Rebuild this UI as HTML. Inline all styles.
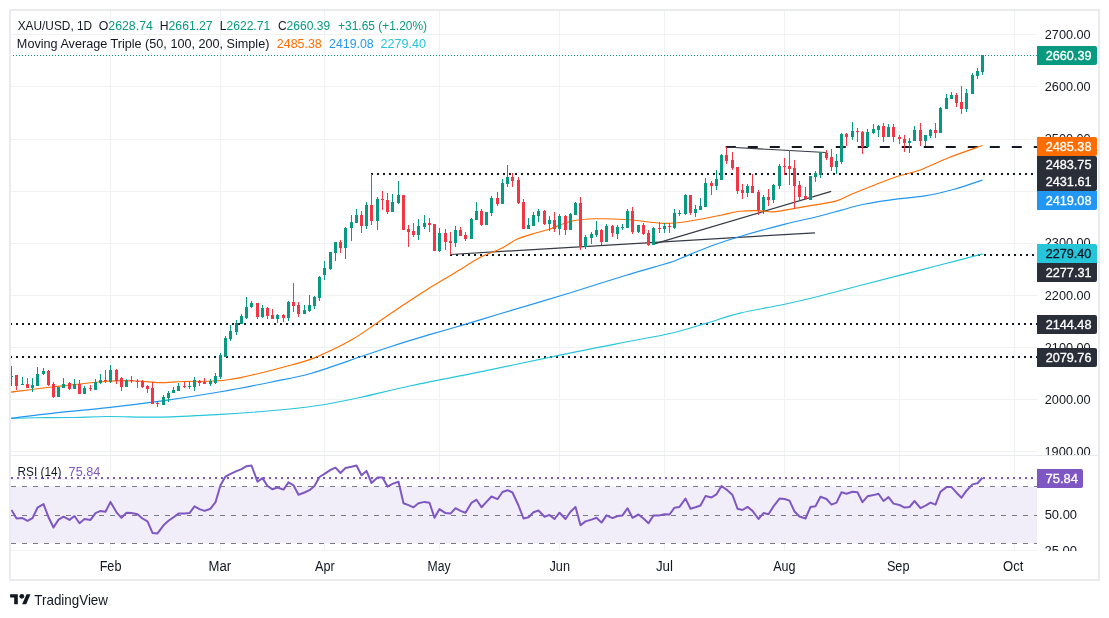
<!DOCTYPE html><html><head><meta charset="utf-8"><style>html,body{margin:0;padding:0;background:#fff;}body{width:1109px;height:618px;overflow:hidden;}</style></head><body><svg width="1109" height="618" viewBox="0 0 1109 618" style="display:block;font-family:'Liberation Sans', sans-serif;will-change:transform">
<rect x="0" y="0" width="1109" height="618" fill="#ffffff"/>
<defs>
<clipPath id="mainclip"><rect x="11" y="11" width="1026" height="444"/></clipPath>
<clipPath id="rsiclip"><rect x="11" y="456" width="1026" height="95"/></clipPath>
<clipPath id="axmain"><rect x="1037" y="11" width="61" height="444"/></clipPath>
<clipPath id="axrsi"><rect x="1037" y="456" width="61" height="95"/></clipPath>
</defs>
<rect x="11" y="34" width="1026" height="1" fill="#F0F2F2"/>
<rect x="11" y="86" width="1026" height="1" fill="#F0F2F2"/>
<rect x="11" y="139" width="1026" height="1" fill="#F0F2F2"/>
<rect x="11" y="191" width="1026" height="1" fill="#F0F2F2"/>
<rect x="11" y="243" width="1026" height="1" fill="#F0F2F2"/>
<rect x="11" y="295" width="1026" height="1" fill="#F0F2F2"/>
<rect x="11" y="347" width="1026" height="1" fill="#F0F2F2"/>
<rect x="11" y="399" width="1026" height="1" fill="#F0F2F2"/>
<rect x="11" y="451" width="1026" height="1" fill="#F0F2F2"/>
<rect x="11" y="479" width="1026" height="1" fill="#F0F2F2"/>
<rect x="11" y="550" width="1026" height="1" fill="#F0F2F2"/>
<rect x="110" y="11" width="1" height="540" fill="#F0F2F2"/>
<rect x="220" y="11" width="1" height="540" fill="#F0F2F2"/>
<rect x="324" y="11" width="1" height="540" fill="#F0F2F2"/>
<rect x="439" y="11" width="1" height="540" fill="#F0F2F2"/>
<rect x="559" y="11" width="1" height="540" fill="#F0F2F2"/>
<rect x="664" y="11" width="1" height="540" fill="#F0F2F2"/>
<rect x="784" y="11" width="1" height="540" fill="#F0F2F2"/>
<rect x="899" y="11" width="1" height="540" fill="#F0F2F2"/>
<rect x="1014" y="11" width="1" height="540" fill="#F0F2F2"/>
<g clip-path="url(#mainclip)">
<g shape-rendering="crispEdges">
<line x1="10" y1="357" x2="1037" y2="357" stroke="#131722" stroke-width="2" stroke-dasharray="2 4"/>
<line x1="10" y1="324" x2="1037" y2="324" stroke="#131722" stroke-width="2" stroke-dasharray="2 4"/>
<line x1="450" y1="255" x2="1037" y2="255" stroke="#131722" stroke-width="2" stroke-dasharray="2 4"/>
<line x1="371" y1="174" x2="1037" y2="174" stroke="#131722" stroke-width="2" stroke-dasharray="2 4"/>
</g>
<line x1="725.8" y1="147" x2="1037" y2="147" stroke="#131722" stroke-width="2" stroke-dasharray="10 12"/>
<line x1="450.7" y1="254.5" x2="815" y2="232.8" stroke="#363A45" stroke-width="1.2"/>
<line x1="653.5" y1="244.2" x2="831.2" y2="191.3" stroke="#363A45" stroke-width="1.2"/>
<line x1="725.8" y1="147" x2="825.7" y2="152.5" stroke="#363A45" stroke-width="1.2"/>
<path d="M10.3,418.4 C14.4,418.3 24.9,417.8 35.0,417.7 C45.1,417.6 58.8,417.7 71.0,417.5 C83.2,417.3 92.8,416.6 108.0,416.5 C123.2,416.4 143.2,417.5 162.0,417.1 C180.8,416.8 202.6,415.4 220.7,414.4 C238.8,413.3 254.6,412.2 270.5,410.8 C286.4,409.4 301.5,408.0 316.4,405.8 C331.3,403.6 344.6,400.8 360.0,397.5 C375.4,394.2 388.3,390.6 408.8,386.2 C429.3,381.8 457.6,376.6 482.8,371.4 C508.0,366.2 536.4,360.0 560.0,355.1 C583.6,350.2 606.1,345.9 624.6,342.3 C643.1,338.7 657.4,336.5 671.1,333.3 C684.8,330.1 695.1,326.5 706.6,323.1 C718.1,319.7 727.6,316.1 740.0,313.1 C752.4,310.1 768.7,307.6 781.0,305.0 C793.3,302.4 800.8,300.8 814.0,297.5 C827.2,294.2 845.5,289.3 860.0,285.5 C874.5,281.7 888.0,278.3 901.3,274.9 C914.6,271.5 926.5,268.5 940.0,265.0 C953.5,261.5 975.5,255.8 982.6,253.9" fill="none" stroke="#26C6DA" stroke-width="1.15"/>
<path d="M10.3,418.4 C18.2,417.4 41.3,414.4 57.6,412.6 C73.9,410.8 90.5,409.6 108.0,407.6 C125.5,405.7 143.5,403.5 162.3,400.9 C181.1,398.2 202.7,394.8 220.7,391.7 C238.7,388.6 255.3,385.3 270.5,382.2 C285.6,379.1 295.9,377.7 311.6,373.2 C327.3,368.7 350.3,360.1 364.8,355.3 C379.3,350.5 387.6,347.6 398.4,344.1 C409.2,340.7 417.8,338.1 429.5,334.6 C441.2,331.2 456.6,326.9 468.4,323.4 C480.1,319.9 482.9,318.9 500.0,313.8 C517.1,308.7 550.4,298.9 571.2,292.5 C592.0,286.1 609.0,280.4 624.6,275.7 C640.2,270.9 656.5,266.5 664.9,264.0 C673.3,261.5 670.9,262.4 675.0,260.8 C679.1,259.2 682.8,257.3 689.5,254.6 C696.2,251.9 707.0,247.5 715.4,244.5 C723.8,241.5 728.4,239.9 740.0,236.5 C751.6,233.1 772.0,227.5 785.1,224.1 C798.2,220.7 809.5,218.5 818.9,216.2 C828.3,213.9 833.9,212.1 841.4,210.1 C848.9,208.1 854.6,206.2 864.0,204.3 C873.4,202.4 887.6,200.3 897.8,198.9 C907.9,197.5 915.5,197.5 924.9,195.9 C934.3,194.3 944.6,191.8 954.2,189.2 C963.8,186.6 977.6,181.6 982.3,180.1" fill="none" stroke="#2196F3" stroke-width="1.15"/>
<path d="M10.8,392.2 C18.0,391.3 37.8,388.6 54.0,386.8 C70.2,385.0 94.2,382.2 108.0,381.2 C121.8,380.2 128.1,380.8 136.7,381.0 C145.3,381.2 151.9,382.5 159.6,382.6 C167.2,382.7 173.6,381.8 182.6,381.5 C191.6,381.2 205.4,381.3 213.3,381.0 C221.2,380.7 222.3,380.8 230.0,379.5 C237.7,378.2 249.3,375.6 259.7,373.2 C270.1,370.8 283.0,367.4 292.2,364.8 C301.4,362.2 305.0,361.8 314.9,357.6 C324.8,353.4 341.3,345.6 351.8,339.7 C362.3,333.8 369.1,328.2 377.7,322.4 C386.3,316.6 395.0,310.6 403.6,304.8 C412.2,299.1 420.9,293.3 429.5,287.9 C438.1,282.5 446.8,277.6 455.4,272.4 C464.0,267.2 473.9,260.7 481.3,256.8 C488.7,252.9 494.1,252.0 500.0,249.1 C505.9,246.2 511.1,242.0 517.0,239.3 C522.9,236.6 530.1,234.7 535.6,233.0 C541.1,231.3 544.1,230.9 550.0,229.0 C555.9,227.1 563.5,223.0 571.2,221.3 C578.9,219.6 586.7,219.1 596.2,218.8 C605.7,218.6 616.9,219.0 628.2,219.8 C639.5,220.6 653.7,223.2 663.8,223.4 C673.9,223.7 679.2,222.7 688.7,221.3 C698.2,219.9 712.2,216.9 720.8,215.2 C729.3,213.5 733.8,212.1 740.0,211.3 C746.2,210.5 752.5,210.5 758.0,210.6 C763.5,210.7 768.2,212.0 772.7,211.9 C777.2,211.8 779.3,211.1 785.1,210.1 C790.9,209.1 799.2,207.6 807.6,206.1 C816.0,204.6 828.3,203.2 835.8,201.1 C843.3,199.0 846.1,196.4 852.7,193.7 C859.3,191.0 867.8,187.6 875.3,184.7 C882.8,181.8 890.3,178.8 897.8,176.3 C905.3,173.9 911.8,173.1 920.3,170.0 C928.8,166.9 938.7,161.6 949.1,157.5 C959.5,153.4 976.9,147.5 982.5,145.5" fill="none" stroke="#FF6D00" stroke-width="1.15"/>
<line x1="10" y1="55.5" x2="1037" y2="55.5" stroke="#089981" stroke-width="1" stroke-dasharray="1 2" stroke-dashoffset="-0"/>
<g shape-rendering="crispEdges">
<rect x="11" y="366.2" width="1" height="19.9" fill="#089981"/>
<rect x="10" y="375.5" width="3" height="1.0" fill="#089981"/>
<rect x="16" y="375.2" width="1" height="14.3" fill="#F23645"/>
<rect x="15" y="375.2" width="3" height="10.7" fill="#F23645"/>
<rect x="22" y="377.1" width="1" height="7.5" fill="#089981"/>
<rect x="21" y="383.6" width="3" height="1.0" fill="#089981"/>
<rect x="27" y="378.1" width="1" height="9.4" fill="#F23645"/>
<rect x="26" y="384.1" width="3" height="3.4" fill="#F23645"/>
<rect x="32" y="378.1" width="1" height="13.6" fill="#089981"/>
<rect x="31" y="385.1" width="3" height="2.7" fill="#089981"/>
<rect x="37" y="367.1" width="1" height="18.8" fill="#089981"/>
<rect x="36" y="374.2" width="3" height="11.7" fill="#089981"/>
<rect x="43" y="368.1" width="1" height="6.8" fill="#089981"/>
<rect x="42" y="371.0" width="3" height="2.9" fill="#089981"/>
<rect x="48" y="370.0" width="1" height="15.9" fill="#F23645"/>
<rect x="47" y="370.5" width="3" height="14.6" fill="#F23645"/>
<rect x="53" y="382.2" width="1" height="15.5" fill="#F23645"/>
<rect x="52" y="383.9" width="3" height="13.0" fill="#F23645"/>
<rect x="58" y="387.0" width="1" height="9.7" fill="#089981"/>
<rect x="57" y="387.0" width="3" height="9.7" fill="#089981"/>
<rect x="63" y="378.1" width="1" height="9.7" fill="#089981"/>
<rect x="62" y="383.9" width="3" height="3.9" fill="#089981"/>
<rect x="69" y="382.2" width="1" height="7.6" fill="#F23645"/>
<rect x="68" y="383.2" width="3" height="5.8" fill="#F23645"/>
<rect x="74" y="379.1" width="1" height="9.9" fill="#089981"/>
<rect x="73" y="383.9" width="3" height="4.9" fill="#089981"/>
<rect x="79" y="380.0" width="1" height="13.8" fill="#F23645"/>
<rect x="78" y="384.1" width="3" height="9.7" fill="#F23645"/>
<rect x="84" y="386.1" width="1" height="7.7" fill="#089981"/>
<rect x="83" y="388.0" width="3" height="5.8" fill="#089981"/>
<rect x="90" y="385.1" width="1" height="5.8" fill="#F23645"/>
<rect x="89" y="388.0" width="3" height="1.0" fill="#F23645"/>
<rect x="95" y="379.1" width="1" height="10.7" fill="#089981"/>
<rect x="94" y="382.2" width="3" height="7.6" fill="#089981"/>
<rect x="100" y="373.9" width="1" height="10.0" fill="#089981"/>
<rect x="99" y="380.0" width="3" height="3.2" fill="#089981"/>
<rect x="105" y="370.0" width="1" height="12.7" fill="#F23645"/>
<rect x="104" y="380.2" width="3" height="1.0" fill="#F23645"/>
<rect x="110" y="364.7" width="1" height="18.5" fill="#089981"/>
<rect x="109" y="370.0" width="3" height="12.2" fill="#089981"/>
<rect x="116" y="369.2" width="1" height="14.3" fill="#F23645"/>
<rect x="115" y="369.9" width="3" height="11.2" fill="#F23645"/>
<rect x="121" y="377.2" width="1" height="13.6" fill="#F23645"/>
<rect x="120" y="378.2" width="3" height="8.5" fill="#F23645"/>
<rect x="126" y="379.1" width="1" height="7.6" fill="#089981"/>
<rect x="125" y="380.1" width="3" height="6.6" fill="#089981"/>
<rect x="131" y="376.2" width="1" height="6.3" fill="#F23645"/>
<rect x="130" y="380.3" width="3" height="1.0" fill="#F23645"/>
<rect x="137" y="379.1" width="1" height="8.6" fill="#F23645"/>
<rect x="136" y="381.0" width="3" height="1.0" fill="#F23645"/>
<rect x="142" y="380.3" width="1" height="7.4" fill="#F23645"/>
<rect x="141" y="381.3" width="3" height="5.6" fill="#F23645"/>
<rect x="147" y="385.4" width="1" height="7.3" fill="#F23645"/>
<rect x="146" y="386.4" width="3" height="2.2" fill="#F23645"/>
<rect x="152" y="382.0" width="1" height="21.6" fill="#F23645"/>
<rect x="151" y="388.0" width="3" height="15.6" fill="#F23645"/>
<rect x="157" y="401.0" width="1" height="5.8" fill="#F23645"/>
<rect x="156" y="402.9" width="3" height="1.0" fill="#F23645"/>
<rect x="163" y="395.1" width="1" height="9.8" fill="#089981"/>
<rect x="162" y="397.1" width="3" height="7.8" fill="#089981"/>
<rect x="168" y="391.3" width="1" height="10.2" fill="#089981"/>
<rect x="167" y="392.7" width="3" height="5.1" fill="#089981"/>
<rect x="173" y="386.9" width="1" height="5.8" fill="#089981"/>
<rect x="172" y="389.8" width="3" height="2.9" fill="#089981"/>
<rect x="178" y="383.2" width="1" height="7.6" fill="#089981"/>
<rect x="177" y="386.1" width="3" height="4.7" fill="#089981"/>
<rect x="184" y="382.0" width="1" height="5.9" fill="#F23645"/>
<rect x="183" y="386.1" width="3" height="1.0" fill="#F23645"/>
<rect x="189" y="381.3" width="1" height="7.5" fill="#089981"/>
<rect x="188" y="386.1" width="3" height="1.0" fill="#089981"/>
<rect x="194" y="377.2" width="1" height="13.6" fill="#089981"/>
<rect x="193" y="380.3" width="3" height="6.4" fill="#089981"/>
<rect x="199" y="380.3" width="1" height="5.4" fill="#F23645"/>
<rect x="198" y="380.6" width="3" height="2.2" fill="#F23645"/>
<rect x="204" y="378.2" width="1" height="5.3" fill="#F23645"/>
<rect x="203" y="381.6" width="3" height="1.9" fill="#F23645"/>
<rect x="210" y="379.1" width="1" height="6.6" fill="#089981"/>
<rect x="209" y="381.1" width="3" height="2.4" fill="#089981"/>
<rect x="215" y="373.3" width="1" height="10.2" fill="#089981"/>
<rect x="214" y="376.1" width="3" height="6.5" fill="#089981"/>
<rect x="220" y="353.1" width="1" height="25.6" fill="#089981"/>
<rect x="219" y="355.0" width="3" height="22.4" fill="#089981"/>
<rect x="225" y="336.1" width="1" height="21.1" fill="#089981"/>
<rect x="224" y="338.2" width="3" height="18.5" fill="#089981"/>
<rect x="230" y="324.8" width="1" height="15.7" fill="#089981"/>
<rect x="229" y="330.8" width="3" height="7.7" fill="#089981"/>
<rect x="236" y="319.9" width="1" height="14.6" fill="#089981"/>
<rect x="235" y="323.2" width="3" height="8.5" fill="#089981"/>
<rect x="241" y="313.5" width="1" height="10.8" fill="#089981"/>
<rect x="240" y="315.9" width="3" height="7.8" fill="#089981"/>
<rect x="246" y="296.8" width="1" height="22.0" fill="#089981"/>
<rect x="245" y="307.0" width="3" height="10.5" fill="#089981"/>
<rect x="251" y="301.0" width="1" height="6.5" fill="#089981"/>
<rect x="250" y="303.0" width="3" height="4.0" fill="#089981"/>
<rect x="257" y="303.0" width="1" height="16.4" fill="#F23645"/>
<rect x="256" y="303.0" width="3" height="13.7" fill="#F23645"/>
<rect x="262" y="305.4" width="1" height="12.1" fill="#089981"/>
<rect x="261" y="307.8" width="3" height="8.9" fill="#089981"/>
<rect x="267" y="307.0" width="1" height="11.8" fill="#F23645"/>
<rect x="266" y="307.8" width="3" height="8.1" fill="#F23645"/>
<rect x="272" y="309.1" width="1" height="9.7" fill="#F23645"/>
<rect x="271" y="315.1" width="3" height="3.7" fill="#F23645"/>
<rect x="277" y="314.0" width="1" height="8.7" fill="#089981"/>
<rect x="276" y="315.1" width="3" height="3.7" fill="#089981"/>
<rect x="283" y="314.3" width="1" height="7.3" fill="#F23645"/>
<rect x="282" y="315.1" width="3" height="2.7" fill="#F23645"/>
<rect x="288" y="301.0" width="1" height="19.7" fill="#089981"/>
<rect x="287" y="301.7" width="3" height="16.1" fill="#089981"/>
<rect x="293" y="283.0" width="1" height="28.8" fill="#F23645"/>
<rect x="292" y="302.1" width="3" height="3.8" fill="#F23645"/>
<rect x="298" y="302.1" width="1" height="14.6" fill="#F23645"/>
<rect x="297" y="304.9" width="3" height="9.0" fill="#F23645"/>
<rect x="304" y="305.4" width="1" height="8.5" fill="#089981"/>
<rect x="303" y="310.2" width="3" height="3.7" fill="#089981"/>
<rect x="309" y="295.1" width="1" height="16.4" fill="#089981"/>
<rect x="308" y="305.3" width="3" height="5.3" fill="#089981"/>
<rect x="314" y="295.8" width="1" height="13.0" fill="#089981"/>
<rect x="313" y="296.9" width="3" height="9.3" fill="#089981"/>
<rect x="319" y="276.3" width="1" height="24.5" fill="#089981"/>
<rect x="318" y="276.8" width="3" height="20.8" fill="#089981"/>
<rect x="324" y="261.3" width="1" height="18.5" fill="#089981"/>
<rect x="323" y="267.9" width="3" height="7.1" fill="#089981"/>
<rect x="330" y="251.9" width="1" height="17.8" fill="#089981"/>
<rect x="329" y="252.4" width="3" height="16.4" fill="#089981"/>
<rect x="335" y="242.1" width="1" height="18.7" fill="#089981"/>
<rect x="334" y="242.4" width="3" height="10.3" fill="#089981"/>
<rect x="340" y="239.9" width="1" height="12.8" fill="#F23645"/>
<rect x="339" y="242.1" width="3" height="5.7" fill="#F23645"/>
<rect x="345" y="226.9" width="1" height="32.1" fill="#089981"/>
<rect x="344" y="227.5" width="3" height="20.3" fill="#089981"/>
<rect x="351" y="215.0" width="1" height="25.6" fill="#089981"/>
<rect x="350" y="222.1" width="3" height="5.7" fill="#089981"/>
<rect x="356" y="208.8" width="1" height="14.1" fill="#089981"/>
<rect x="355" y="215.1" width="3" height="7.8" fill="#089981"/>
<rect x="361" y="211.0" width="1" height="21.8" fill="#F23645"/>
<rect x="360" y="215.1" width="3" height="10.7" fill="#F23645"/>
<rect x="366" y="202.0" width="1" height="26.8" fill="#089981"/>
<rect x="365" y="205.2" width="3" height="20.6" fill="#089981"/>
<rect x="371" y="173.8" width="1" height="51.0" fill="#F23645"/>
<rect x="370" y="205.2" width="3" height="15.7" fill="#F23645"/>
<rect x="377" y="197.1" width="1" height="32.8" fill="#089981"/>
<rect x="376" y="199.0" width="3" height="21.9" fill="#089981"/>
<rect x="382" y="190.9" width="1" height="18.9" fill="#F23645"/>
<rect x="381" y="198.6" width="3" height="1.4" fill="#F23645"/>
<rect x="387" y="193.2" width="1" height="20.4" fill="#F23645"/>
<rect x="386" y="200.0" width="3" height="11.7" fill="#F23645"/>
<rect x="392" y="193.8" width="1" height="17.9" fill="#089981"/>
<rect x="391" y="202.2" width="3" height="9.5" fill="#089981"/>
<rect x="398" y="181.1" width="1" height="23.3" fill="#089981"/>
<rect x="397" y="195.0" width="3" height="8.0" fill="#089981"/>
<rect x="403" y="195.0" width="1" height="34.6" fill="#F23645"/>
<rect x="402" y="195.0" width="3" height="34.6" fill="#F23645"/>
<rect x="408" y="225.3" width="1" height="21.4" fill="#F23645"/>
<rect x="407" y="229.2" width="3" height="2.5" fill="#F23645"/>
<rect x="413" y="222.9" width="1" height="14.0" fill="#F23645"/>
<rect x="412" y="231.1" width="3" height="3.5" fill="#F23645"/>
<rect x="418" y="219.0" width="1" height="20.8" fill="#089981"/>
<rect x="417" y="225.8" width="3" height="8.8" fill="#089981"/>
<rect x="424" y="215.1" width="1" height="13.7" fill="#089981"/>
<rect x="423" y="222.9" width="3" height="4.4" fill="#089981"/>
<rect x="429" y="218.0" width="1" height="13.7" fill="#F23645"/>
<rect x="428" y="222.9" width="3" height="1.9" fill="#F23645"/>
<rect x="434" y="223.9" width="1" height="26.7" fill="#F23645"/>
<rect x="433" y="224.4" width="3" height="26.2" fill="#F23645"/>
<rect x="439" y="228.0" width="1" height="23.9" fill="#089981"/>
<rect x="438" y="232.8" width="3" height="18.6" fill="#089981"/>
<rect x="445" y="229.3" width="1" height="20.5" fill="#F23645"/>
<rect x="444" y="232.8" width="3" height="8.9" fill="#F23645"/>
<rect x="450" y="232.0" width="1" height="22.7" fill="#F23645"/>
<rect x="449" y="240.9" width="3" height="1.6" fill="#F23645"/>
<rect x="455" y="226.0" width="1" height="20.6" fill="#089981"/>
<rect x="454" y="229.9" width="3" height="13.4" fill="#089981"/>
<rect x="460" y="227.2" width="1" height="9.2" fill="#F23645"/>
<rect x="459" y="229.9" width="3" height="6.1" fill="#F23645"/>
<rect x="465" y="232.0" width="1" height="8.9" fill="#F23645"/>
<rect x="464" y="234.8" width="3" height="4.5" fill="#F23645"/>
<rect x="471" y="217.9" width="1" height="21.1" fill="#089981"/>
<rect x="470" y="218.6" width="3" height="20.4" fill="#089981"/>
<rect x="476" y="202.1" width="1" height="17.8" fill="#089981"/>
<rect x="475" y="211.0" width="3" height="8.9" fill="#089981"/>
<rect x="481" y="209.4" width="1" height="16.6" fill="#F23645"/>
<rect x="480" y="211.0" width="3" height="14.0" fill="#F23645"/>
<rect x="486" y="211.8" width="1" height="13.2" fill="#089981"/>
<rect x="485" y="212.1" width="3" height="12.6" fill="#089981"/>
<rect x="491" y="195.9" width="1" height="19.9" fill="#089981"/>
<rect x="490" y="198.0" width="3" height="14.6" fill="#089981"/>
<rect x="497" y="192.0" width="1" height="13.6" fill="#F23645"/>
<rect x="496" y="198.0" width="3" height="6.0" fill="#F23645"/>
<rect x="502" y="179.1" width="1" height="24.6" fill="#089981"/>
<rect x="501" y="183.0" width="3" height="20.7" fill="#089981"/>
<rect x="507" y="164.9" width="1" height="21.8" fill="#089981"/>
<rect x="506" y="177.0" width="3" height="6.9" fill="#089981"/>
<rect x="512" y="172.9" width="1" height="13.8" fill="#F23645"/>
<rect x="511" y="177.0" width="3" height="3.7" fill="#F23645"/>
<rect x="518" y="177.0" width="1" height="26.7" fill="#F23645"/>
<rect x="517" y="180.2" width="3" height="23.2" fill="#F23645"/>
<rect x="523" y="198.8" width="1" height="30.0" fill="#F23645"/>
<rect x="522" y="201.7" width="3" height="27.1" fill="#F23645"/>
<rect x="528" y="217.9" width="1" height="10.9" fill="#089981"/>
<rect x="527" y="225.0" width="3" height="3.8" fill="#089981"/>
<rect x="533" y="212.1" width="1" height="13.5" fill="#089981"/>
<rect x="532" y="215.0" width="3" height="10.6" fill="#089981"/>
<rect x="538" y="209.1" width="1" height="12.6" fill="#089981"/>
<rect x="537" y="211.1" width="3" height="4.5" fill="#089981"/>
<rect x="544" y="210.0" width="1" height="14.7" fill="#F23645"/>
<rect x="543" y="210.8" width="3" height="13.2" fill="#F23645"/>
<rect x="549" y="216.0" width="1" height="14.5" fill="#089981"/>
<rect x="548" y="220.2" width="3" height="3.6" fill="#089981"/>
<rect x="554" y="212.1" width="1" height="19.7" fill="#F23645"/>
<rect x="553" y="220.2" width="3" height="8.8" fill="#F23645"/>
<rect x="559" y="213.9" width="1" height="20.8" fill="#089981"/>
<rect x="558" y="216.0" width="3" height="13.0" fill="#089981"/>
<rect x="565" y="215.0" width="1" height="19.7" fill="#F23645"/>
<rect x="564" y="215.6" width="3" height="14.3" fill="#F23645"/>
<rect x="570" y="213.0" width="1" height="16.9" fill="#089981"/>
<rect x="569" y="213.9" width="3" height="16.0" fill="#089981"/>
<rect x="575" y="202.0" width="1" height="12.7" fill="#089981"/>
<rect x="574" y="203.1" width="3" height="11.6" fill="#089981"/>
<rect x="580" y="196.8" width="1" height="53.2" fill="#F23645"/>
<rect x="579" y="203.3" width="3" height="44.1" fill="#F23645"/>
<rect x="585" y="235.0" width="1" height="13.7" fill="#089981"/>
<rect x="584" y="237.0" width="3" height="9.7" fill="#089981"/>
<rect x="591" y="232.1" width="1" height="11.6" fill="#089981"/>
<rect x="590" y="234.1" width="3" height="3.9" fill="#089981"/>
<rect x="596" y="221.2" width="1" height="15.8" fill="#089981"/>
<rect x="595" y="230.3" width="3" height="4.8" fill="#089981"/>
<rect x="601" y="229.0" width="1" height="15.8" fill="#F23645"/>
<rect x="600" y="229.9" width="3" height="12.0" fill="#F23645"/>
<rect x="606" y="224.0" width="1" height="17.9" fill="#089981"/>
<rect x="605" y="226.0" width="3" height="15.9" fill="#089981"/>
<rect x="612" y="224.7" width="1" height="12.0" fill="#F23645"/>
<rect x="611" y="225.6" width="3" height="7.8" fill="#F23645"/>
<rect x="617" y="225.1" width="1" height="13.8" fill="#089981"/>
<rect x="616" y="227.3" width="3" height="6.8" fill="#089981"/>
<rect x="622" y="224.0" width="1" height="5.9" fill="#089981"/>
<rect x="621" y="227.3" width="3" height="1.0" fill="#089981"/>
<rect x="627" y="209.2" width="1" height="18.7" fill="#089981"/>
<rect x="626" y="211.0" width="3" height="16.7" fill="#089981"/>
<rect x="632" y="206.9" width="1" height="26.7" fill="#F23645"/>
<rect x="631" y="211.0" width="3" height="20.7" fill="#F23645"/>
<rect x="638" y="225.3" width="1" height="7.5" fill="#089981"/>
<rect x="637" y="225.3" width="3" height="6.4" fill="#089981"/>
<rect x="643" y="222.9" width="1" height="11.7" fill="#F23645"/>
<rect x="642" y="224.8" width="3" height="8.8" fill="#F23645"/>
<rect x="648" y="229.9" width="1" height="15.8" fill="#F23645"/>
<rect x="647" y="232.8" width="3" height="11.7" fill="#F23645"/>
<rect x="653" y="227.0" width="1" height="17.5" fill="#089981"/>
<rect x="652" y="227.7" width="3" height="16.8" fill="#089981"/>
<rect x="659" y="222.3" width="1" height="10.5" fill="#F23645"/>
<rect x="658" y="227.7" width="3" height="1.0" fill="#F23645"/>
<rect x="664" y="223.4" width="1" height="9.4" fill="#089981"/>
<rect x="663" y="226.3" width="3" height="2.9" fill="#089981"/>
<rect x="669" y="222.9" width="1" height="9.9" fill="#F23645"/>
<rect x="668" y="226.3" width="3" height="1.0" fill="#F23645"/>
<rect x="674" y="209.2" width="1" height="19.3" fill="#089981"/>
<rect x="673" y="213.2" width="3" height="14.5" fill="#089981"/>
<rect x="679" y="210.3" width="1" height="5.8" fill="#089981"/>
<rect x="678" y="212.7" width="3" height="1.2" fill="#089981"/>
<rect x="685" y="194.2" width="1" height="21.2" fill="#089981"/>
<rect x="684" y="195.0" width="3" height="18.9" fill="#089981"/>
<rect x="690" y="195.0" width="1" height="20.4" fill="#F23645"/>
<rect x="689" y="195.3" width="3" height="17.4" fill="#F23645"/>
<rect x="695" y="205.2" width="1" height="11.3" fill="#089981"/>
<rect x="694" y="209.2" width="3" height="3.5" fill="#089981"/>
<rect x="700" y="198.2" width="1" height="11.3" fill="#089981"/>
<rect x="699" y="206.3" width="3" height="3.2" fill="#089981"/>
<rect x="705" y="178.2" width="1" height="28.7" fill="#089981"/>
<rect x="704" y="183.0" width="3" height="23.9" fill="#089981"/>
<rect x="711" y="181.1" width="1" height="13.6" fill="#F23645"/>
<rect x="710" y="183.3" width="3" height="2.2" fill="#F23645"/>
<rect x="716" y="169.9" width="1" height="20.0" fill="#089981"/>
<rect x="715" y="178.9" width="3" height="6.6" fill="#089981"/>
<rect x="721" y="154.0" width="1" height="25.8" fill="#089981"/>
<rect x="720" y="155.1" width="3" height="24.7" fill="#089981"/>
<rect x="726" y="146.8" width="1" height="17.0" fill="#F23645"/>
<rect x="725" y="155.1" width="3" height="5.8" fill="#F23645"/>
<rect x="732" y="152.1" width="1" height="17.5" fill="#F23645"/>
<rect x="731" y="160.3" width="3" height="7.9" fill="#F23645"/>
<rect x="737" y="167.1" width="1" height="26.7" fill="#F23645"/>
<rect x="736" y="167.1" width="3" height="23.8" fill="#F23645"/>
<rect x="742" y="184.2" width="1" height="14.6" fill="#F23645"/>
<rect x="741" y="190.0" width="3" height="2.9" fill="#F23645"/>
<rect x="747" y="184.2" width="1" height="12.5" fill="#089981"/>
<rect x="746" y="185.6" width="3" height="7.3" fill="#089981"/>
<rect x="752" y="174.0" width="1" height="18.9" fill="#F23645"/>
<rect x="751" y="186.1" width="3" height="6.8" fill="#F23645"/>
<rect x="758" y="190.0" width="1" height="24.8" fill="#F23645"/>
<rect x="757" y="191.9" width="3" height="18.5" fill="#F23645"/>
<rect x="763" y="195.3" width="1" height="18.9" fill="#089981"/>
<rect x="762" y="197.0" width="3" height="12.8" fill="#089981"/>
<rect x="768" y="189.0" width="1" height="17.0" fill="#F23645"/>
<rect x="767" y="197.0" width="3" height="2.6" fill="#F23645"/>
<rect x="773" y="184.2" width="1" height="18.6" fill="#089981"/>
<rect x="772" y="185.1" width="3" height="14.5" fill="#089981"/>
<rect x="779" y="164.2" width="1" height="24.8" fill="#089981"/>
<rect x="778" y="165.7" width="3" height="20.4" fill="#089981"/>
<rect x="784" y="158.0" width="1" height="16.9" fill="#F23645"/>
<rect x="783" y="165.7" width="3" height="1.4" fill="#F23645"/>
<rect x="789" y="150.1" width="1" height="35.0" fill="#F23645"/>
<rect x="788" y="165.7" width="3" height="3.3" fill="#F23645"/>
<rect x="794" y="160.3" width="1" height="48.4" fill="#F23645"/>
<rect x="793" y="168.2" width="3" height="17.4" fill="#F23645"/>
<rect x="799" y="181.0" width="1" height="19.2" fill="#F23645"/>
<rect x="798" y="185.1" width="3" height="12.2" fill="#F23645"/>
<rect x="805" y="187.1" width="1" height="12.8" fill="#F23645"/>
<rect x="804" y="196.3" width="3" height="2.9" fill="#F23645"/>
<rect x="810" y="176.3" width="1" height="23.6" fill="#089981"/>
<rect x="809" y="176.3" width="3" height="23.3" fill="#089981"/>
<rect x="815" y="171.2" width="1" height="10.5" fill="#089981"/>
<rect x="814" y="173.4" width="3" height="3.6" fill="#089981"/>
<rect x="820" y="151.5" width="1" height="26.2" fill="#089981"/>
<rect x="819" y="152.2" width="3" height="22.6" fill="#089981"/>
<rect x="826" y="150.1" width="1" height="9.7" fill="#F23645"/>
<rect x="825" y="153.0" width="3" height="4.8" fill="#F23645"/>
<rect x="831" y="149.0" width="1" height="21.9" fill="#F23645"/>
<rect x="830" y="156.9" width="3" height="9.9" fill="#F23645"/>
<rect x="836" y="154.0" width="1" height="19.8" fill="#089981"/>
<rect x="835" y="160.7" width="3" height="6.4" fill="#089981"/>
<rect x="841" y="133.0" width="1" height="30.6" fill="#089981"/>
<rect x="840" y="133.6" width="3" height="28.1" fill="#089981"/>
<rect x="846" y="132.6" width="1" height="13.1" fill="#F23645"/>
<rect x="845" y="133.6" width="3" height="3.3" fill="#F23645"/>
<rect x="852" y="121.9" width="1" height="18.0" fill="#089981"/>
<rect x="851" y="131.1" width="3" height="5.8" fill="#089981"/>
<rect x="857" y="128.2" width="1" height="13.6" fill="#F23645"/>
<rect x="856" y="131.1" width="3" height="1.0" fill="#F23645"/>
<rect x="862" y="131.1" width="1" height="22.6" fill="#F23645"/>
<rect x="861" y="131.6" width="3" height="15.1" fill="#F23645"/>
<rect x="867" y="129.2" width="1" height="17.5" fill="#089981"/>
<rect x="866" y="132.1" width="3" height="14.6" fill="#089981"/>
<rect x="873" y="124.3" width="1" height="9.3" fill="#089981"/>
<rect x="872" y="128.6" width="3" height="4.4" fill="#089981"/>
<rect x="878" y="124.9" width="1" height="12.0" fill="#089981"/>
<rect x="877" y="125.7" width="3" height="4.0" fill="#089981"/>
<rect x="883" y="122.8" width="1" height="19.0" fill="#F23645"/>
<rect x="882" y="125.7" width="3" height="11.2" fill="#F23645"/>
<rect x="888" y="123.8" width="1" height="13.1" fill="#089981"/>
<rect x="887" y="127.2" width="3" height="9.7" fill="#089981"/>
<rect x="893" y="123.8" width="1" height="18.0" fill="#F23645"/>
<rect x="892" y="126.8" width="3" height="10.6" fill="#F23645"/>
<rect x="899" y="135.1" width="1" height="8.7" fill="#F23645"/>
<rect x="898" y="136.9" width="3" height="2.2" fill="#F23645"/>
<rect x="904" y="135.1" width="1" height="16.9" fill="#F23645"/>
<rect x="903" y="138.8" width="3" height="4.0" fill="#F23645"/>
<rect x="909" y="138.0" width="1" height="14.6" fill="#089981"/>
<rect x="908" y="141.0" width="3" height="1.9" fill="#089981"/>
<rect x="914" y="125.8" width="1" height="15.6" fill="#089981"/>
<rect x="913" y="129.7" width="3" height="11.7" fill="#089981"/>
<rect x="920" y="123.1" width="1" height="22.7" fill="#F23645"/>
<rect x="919" y="129.7" width="3" height="10.9" fill="#F23645"/>
<rect x="925" y="135.1" width="1" height="11.3" fill="#089981"/>
<rect x="924" y="135.1" width="3" height="5.5" fill="#089981"/>
<rect x="930" y="128.9" width="1" height="8.6" fill="#089981"/>
<rect x="929" y="129.7" width="3" height="5.8" fill="#089981"/>
<rect x="935" y="123.1" width="1" height="14.4" fill="#F23645"/>
<rect x="934" y="129.7" width="3" height="3.1" fill="#F23645"/>
<rect x="940" y="107.0" width="1" height="25.8" fill="#089981"/>
<rect x="939" y="107.6" width="3" height="25.2" fill="#089981"/>
<rect x="946" y="94.0" width="1" height="14.9" fill="#089981"/>
<rect x="945" y="97.9" width="3" height="11.0" fill="#089981"/>
<rect x="951" y="92.0" width="1" height="6.6" fill="#089981"/>
<rect x="950" y="94.8" width="3" height="3.8" fill="#089981"/>
<rect x="956" y="93.4" width="1" height="13.6" fill="#F23645"/>
<rect x="955" y="95.3" width="3" height="7.8" fill="#F23645"/>
<rect x="961" y="85.6" width="1" height="28.2" fill="#F23645"/>
<rect x="960" y="101.7" width="3" height="7.2" fill="#F23645"/>
<rect x="966" y="88.9" width="1" height="22.9" fill="#089981"/>
<rect x="965" y="92.8" width="3" height="16.1" fill="#089981"/>
<rect x="972" y="73.0" width="1" height="21.0" fill="#089981"/>
<rect x="971" y="75.0" width="3" height="19.0" fill="#089981"/>
<rect x="977" y="68.2" width="1" height="10.6" fill="#089981"/>
<rect x="976" y="70.7" width="3" height="5.2" fill="#089981"/>
<rect x="982" y="55.1" width="1" height="19.9" fill="#089981"/>
<rect x="981" y="55.1" width="3" height="16.9" fill="#089981"/>
</g>
</g>
<g clip-path="url(#rsiclip)">
<rect x="11" y="486.3" width="1026" height="57" fill="#F2EEF9"/>
<line x1="11" y1="486.5" x2="1037" y2="486.5" stroke="#787B86" stroke-width="1" stroke-dasharray="5 6"/>
<line x1="11" y1="515.5" x2="1037" y2="515.5" stroke="#787B86" stroke-width="1" stroke-dasharray="5 6"/>
<line x1="11" y1="543.5" x2="1037" y2="543.5" stroke="#787B86" stroke-width="1" stroke-dasharray="5 6"/>
<line x1="11" y1="478" x2="1037" y2="478" stroke="#7E57C2" stroke-width="2" stroke-dasharray="2 4"/>
<polyline points="11.5,510.0 16.5,518.5 22.5,518.1 27.5,520.8 32.5,518.1 37.5,507.7 43.5,504.1 48.5,517.2 53.5,527.5 58.5,519.6 63.5,516.7 69.5,519.9 74.5,516.0 79.5,523.2 84.5,519.0 90.5,519.9 95.5,513.1 100.5,510.9 105.5,511.8 110.5,501.9 116.5,512.3 121.5,517.8 126.5,512.7 131.5,513.1 137.5,514.2 142.5,518.5 147.5,521.4 152.5,532.9 157.5,533.4 163.5,525.3 168.5,520.8 173.5,517.2 178.5,513.6 184.5,513.6 189.5,513.1 194.5,506.4 199.5,509.1 204.5,510.9 210.5,508.7 215.5,502.2 220.5,485.3 225.5,476.6 230.5,473.9 236.5,471.2 241.5,469.1 246.5,466.2 251.5,465.5 257.5,481.7 262.5,478.1 267.5,486.0 272.5,489.3 277.5,487.5 283.5,489.6 288.5,482.4 293.5,485.3 298.5,494.7 304.5,492.5 309.5,490.2 314.5,486.0 319.5,477.0 324.5,473.9 330.5,469.8 335.5,467.6 340.5,473.0 345.5,468.0 351.5,466.7 356.5,465.5 361.5,475.2 366.5,470.9 371.5,483.0 377.5,477.5 382.5,477.5 387.5,486.6 392.5,483.9 398.5,481.7 403.5,503.3 408.5,505.1 413.5,507.3 418.5,503.3 424.5,501.9 429.5,502.8 434.5,517.8 439.5,509.1 445.5,513.1 450.5,513.6 455.5,508.2 460.5,510.9 465.5,512.7 471.5,502.8 476.5,499.7 481.5,507.3 486.5,501.9 491.5,496.5 497.5,499.2 502.5,492.0 507.5,490.2 512.5,492.5 518.5,505.5 523.5,518.5 528.5,517.2 533.5,512.3 538.5,510.5 544.5,516.7 549.5,514.9 554.5,519.0 559.5,512.7 565.5,519.0 570.5,511.8 575.5,506.9 580.5,525.3 585.5,521.4 591.5,519.6 596.5,517.8 601.5,522.6 606.5,515.4 612.5,518.1 617.5,516.0 622.5,515.4 627.5,508.2 632.5,517.8 638.5,514.5 643.5,518.5 648.5,523.2 653.5,515.4 659.5,515.4 664.5,514.2 669.5,514.5 674.5,507.7 679.5,506.9 685.5,498.6 690.5,508.7 695.5,507.3 700.5,505.5 705.5,496.1 711.5,497.4 716.5,494.3 721.5,486.0 726.5,489.6 732.5,495.0 737.5,508.7 742.5,510.0 747.5,506.9 752.5,510.9 758.5,519.0 763.5,513.1 768.5,514.2 773.5,506.4 779.5,498.6 784.5,499.0 789.5,500.6 794.5,511.5 799.5,516.5 805.5,518.5 810.5,507.0 815.5,506.2 820.5,496.7 826.5,499.0 831.5,504.6 836.5,502.6 841.5,492.3 846.5,493.7 852.5,491.7 857.5,492.3 862.5,502.2 867.5,496.3 873.5,495.1 878.5,493.7 883.5,501.0 888.5,497.1 893.5,503.6 899.5,505.0 904.5,507.6 909.5,507.0 914.5,501.0 920.5,508.2 925.5,505.6 930.5,502.6 935.5,504.6 940.5,491.7 946.5,487.1 951.5,487.1 956.5,492.7 961.5,497.7 966.5,490.7 972.5,484.4 977.5,483.2 982.5,477.8" fill="none" stroke="#7E57C2" stroke-width="2" stroke-linejoin="round"/>
</g>
<text x="17.63" y="30" font-size="12.3" textLength="74.52" lengthAdjust="spacingAndGlyphs"><tspan fill="#131722">XAU/USD, 1D</tspan></text>
<text x="98.71" y="30" font-size="12.3" textLength="54.13" lengthAdjust="spacingAndGlyphs"><tspan fill="#131722">O</tspan><tspan fill="#089981">2628.74</tspan></text>
<text x="159.79" y="30" font-size="12.3" textLength="52.84" lengthAdjust="spacingAndGlyphs"><tspan fill="#131722">H</tspan><tspan fill="#089981">2661.27</tspan></text>
<text x="219.81" y="30" font-size="12.3" textLength="50.28" lengthAdjust="spacingAndGlyphs"><tspan fill="#131722">L</tspan><tspan fill="#089981">2622.71</tspan></text>
<text x="277.90" y="30" font-size="12.3" textLength="52.17" lengthAdjust="spacingAndGlyphs"><tspan fill="#131722">C</tspan><tspan fill="#089981">2660.39</tspan></text>
<text x="338.10" y="30" font-size="12.3" textLength="88.94" lengthAdjust="spacingAndGlyphs"><tspan fill="#089981">+31.65 (+1.20%)</tspan></text>
<text x="16.86" y="48" font-size="12.3" textLength="252.54" lengthAdjust="spacingAndGlyphs"><tspan fill="#131722">Moving Average Triple (50, 100, 200, Simple)</tspan></text>
<text x="276.88" y="48" font-size="12.3" textLength="44.88" lengthAdjust="spacingAndGlyphs"><tspan fill="#FF6D00">2485.38</tspan></text>
<text x="329.08" y="48" font-size="12.3" textLength="44.67" lengthAdjust="spacingAndGlyphs"><tspan fill="#2196F3">2419.08</tspan></text>
<text x="380.47" y="48" font-size="12.3" textLength="45.43" lengthAdjust="spacingAndGlyphs"><tspan fill="#26C6DA">2279.40</tspan></text>
<text x="17.53" y="476" font-size="12.3" textLength="43.92" lengthAdjust="spacingAndGlyphs"><tspan fill="#131722">RSI (14)</tspan></text>
<text x="68.63" y="476" font-size="12.3" textLength="31.71" lengthAdjust="spacingAndGlyphs"><tspan fill="#7E57C2">75.84</tspan></text>
<g clip-path="url(#axmain)">
<text x="1044.76" y="39" font-size="12.3" textLength="45.94" lengthAdjust="spacingAndGlyphs"><tspan fill="#131722">2700.00</tspan></text>
<text x="1044.76" y="91" font-size="12.3" textLength="45.94" lengthAdjust="spacingAndGlyphs"><tspan fill="#131722">2600.00</tspan></text>
<text x="1044.76" y="143" font-size="12.3" textLength="45.94" lengthAdjust="spacingAndGlyphs"><tspan fill="#131722">2500.00</tspan></text>
<text x="1044.76" y="195" font-size="12.3" textLength="45.94" lengthAdjust="spacingAndGlyphs"><tspan fill="#131722">2400.00</tspan></text>
<text x="1044.76" y="247" font-size="12.3" textLength="45.94" lengthAdjust="spacingAndGlyphs"><tspan fill="#131722">2300.00</tspan></text>
<text x="1044.76" y="300" font-size="12.3" textLength="45.94" lengthAdjust="spacingAndGlyphs"><tspan fill="#131722">2200.00</tspan></text>
<text x="1044.76" y="352" font-size="12.3" textLength="45.94" lengthAdjust="spacingAndGlyphs"><tspan fill="#131722">2100.00</tspan></text>
<text x="1044.76" y="404" font-size="12.3" textLength="45.94" lengthAdjust="spacingAndGlyphs"><tspan fill="#131722">2000.00</tspan></text>
<text x="1044.44" y="456" font-size="12.3" textLength="46.27" lengthAdjust="spacingAndGlyphs"><tspan fill="#131722">1900.00</tspan></text>
<path d="M1037,46 H1095 Q1097,46 1097,48 V63 Q1097,65 1095,65 H1037 Z" fill="#089981"/>
<text stroke="#ffffff" stroke-width="0.3" x="1045.67" y="60" font-size="12.3" textLength="45.83" lengthAdjust="spacingAndGlyphs"><tspan fill="#ffffff">2660.39</tspan></text>
<path d="M1037,137 H1095 Q1097,137 1097,139 V154 Q1097,156 1095,156 H1037 Z" fill="#FF6D00"/>
<text stroke="#ffffff" stroke-width="0.3" x="1045.67" y="151" font-size="12.3" textLength="45.80" lengthAdjust="spacingAndGlyphs"><tspan fill="#ffffff">2485.38</tspan></text>
<path d="M1037,156 H1095 Q1097,156 1097,158 V189 Q1097,191 1095,191 H1037 Z" fill="#2A2E39"/>
<text stroke="#ffffff" stroke-width="0.3" x="1045.67" y="169" font-size="12.3" textLength="45.77" lengthAdjust="spacingAndGlyphs"><tspan fill="#ffffff">2483.75</tspan></text>
<text stroke="#ffffff" stroke-width="0.3" x="1045.67" y="186" font-size="12.3" textLength="45.87" lengthAdjust="spacingAndGlyphs"><tspan fill="#ffffff">2431.61</tspan></text>
<path d="M1037,191 H1097 V208 Q1097,210 1095,210 H1037 Z" fill="#2196F3"/>
<text stroke="#ffffff" stroke-width="0.3" x="1045.67" y="205" font-size="12.3" textLength="45.80" lengthAdjust="spacingAndGlyphs"><tspan fill="#ffffff">2419.08</tspan></text>
<path d="M1037,244 H1095 Q1097,244 1097,246 V263 H1037 Z" fill="#26C6DA"/>
<text stroke="#131722" stroke-width="0.3" x="1045.67" y="258" font-size="12.3" textLength="45.74" lengthAdjust="spacingAndGlyphs"><tspan fill="#131722">2279.40</tspan></text>
<path d="M1037,263 H1097 V280 Q1097,282 1095,282 H1037 Z" fill="#2A2E39"/>
<text stroke="#ffffff" stroke-width="0.3" x="1045.67" y="277" font-size="12.3" textLength="45.87" lengthAdjust="spacingAndGlyphs"><tspan fill="#ffffff">2277.31</tspan></text>
<path d="M1037,315 H1095 Q1097,315 1097,317 V332 Q1097,334 1095,334 H1037 Z" fill="#2A2E39"/>
<text stroke="#ffffff" stroke-width="0.3" x="1045.67" y="329" font-size="12.3" textLength="45.80" lengthAdjust="spacingAndGlyphs"><tspan fill="#ffffff">2144.48</tspan></text>
<path d="M1037,348 H1095 Q1097,348 1097,350 V365 Q1097,367 1095,367 H1037 Z" fill="#2A2E39"/>
<text stroke="#ffffff" stroke-width="0.3" x="1045.67" y="362" font-size="12.3" textLength="45.80" lengthAdjust="spacingAndGlyphs"><tspan fill="#ffffff">2079.76</tspan></text>
</g>
<g clip-path="url(#axrsi)">
<text x="1044.68" y="519" font-size="12.3" textLength="32.40" lengthAdjust="spacingAndGlyphs"><tspan fill="#131722">50.00</tspan></text>
<text x="1044.55" y="555" font-size="12.3" textLength="32.54" lengthAdjust="spacingAndGlyphs"><tspan fill="#131722">25.00</tspan></text>
<path d="M1037,469 H1081 Q1083,469 1083,471 V486 Q1083,488 1081,488 H1037 Z" fill="#7E57C2"/>
<text stroke="#ffffff" stroke-width="0.3" x="1045.62" y="483" font-size="12.3" textLength="32.44" lengthAdjust="spacingAndGlyphs"><tspan fill="#ffffff">75.84</tspan></text>
</g>
<text x="99.66" y="571" font-size="14" textLength="21.76" lengthAdjust="spacingAndGlyphs"><tspan fill="#131722">Feb</tspan></text>
<text x="208.62" y="571" font-size="14" textLength="22.57" lengthAdjust="spacingAndGlyphs"><tspan fill="#131722">Mar</tspan></text>
<text x="315.02" y="571" font-size="14" textLength="19.74" lengthAdjust="spacingAndGlyphs"><tspan fill="#131722">Apr</tspan></text>
<text x="427.59" y="571" font-size="14" textLength="23.03" lengthAdjust="spacingAndGlyphs"><tspan fill="#131722">May</tspan></text>
<text x="549.46" y="571" font-size="14" textLength="20.55" lengthAdjust="spacingAndGlyphs"><tspan fill="#131722">Jun</tspan></text>
<text x="655.90" y="571" font-size="14" textLength="17.12" lengthAdjust="spacingAndGlyphs"><tspan fill="#131722">Jul</tspan></text>
<text x="773.22" y="571" font-size="14" textLength="22.34" lengthAdjust="spacingAndGlyphs"><tspan fill="#131722">Aug</tspan></text>
<text x="886.88" y="571" font-size="14" textLength="22.60" lengthAdjust="spacingAndGlyphs"><tspan fill="#131722">Sep</tspan></text>
<text x="1003.08" y="571" font-size="14" textLength="20.33" lengthAdjust="spacingAndGlyphs"><tspan fill="#131722">Oct</tspan></text>
<rect x="11" y="455" width="1087" height="1" fill="#E9EBF0"/>
<rect x="10" y="10" width="1089" height="570" fill="none" stroke="#E9EBF0" stroke-width="2"/>
<g fill="#131722">
<path d="M10.1,594.2 H17.8 V604.3 H14.2 V597.6 H10.1 Z"/>
<circle cx="21.8" cy="596.3" r="2.4"/>
<path d="M26.6,594.2 H30.5 L26.2,604.3 H22.1 Z"/>
</g>
<text x="34.30" y="605" font-size="14.2" textLength="73.68" lengthAdjust="spacingAndGlyphs"><tspan fill="#131722">TradingView</tspan></text>
</svg></body></html>
